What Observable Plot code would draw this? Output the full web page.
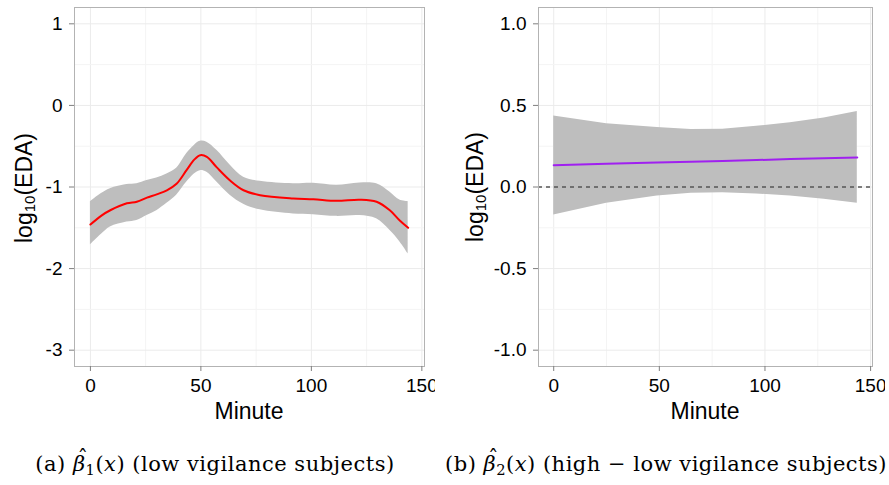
<!DOCTYPE html>
<html><head><meta charset="utf-8">
<script src="https://cdn.jsdelivr.net/npm/d3@7"></script>
<script src="https://cdn.jsdelivr.net/npm/@observablehq/plot@0.6"></script>
<style>
body{margin:0;background:#fff;}
#wrap{position:relative;width:889px;height:485px;overflow:hidden;background:#fff;}
.panel{position:absolute;top:0;}
.cap{position:absolute;font-family:"DejaVu Serif","Liberation Serif",serif;font-size:21px;line-height:22px;letter-spacing:0.5px;white-space:nowrap;transform:translateX(-50%);color:#000;}
.cap .sb{font-size:70%;position:relative;top:0.25em;}
.cap .bh{position:relative;display:inline-block;}
.cap .hat{position:absolute;left:0.22em;top:-0.3em;font-style:normal;}
</style></head><body>
<div id="wrap">
<div id="pa" class="panel" style="left:0"></div>
<div id="pb" class="panel" style="left:440px"></div>
<div class="cap" style="left:215px;top:453px">(a) <span class="bh"><i>β</i><span class="hat">ˆ</span></span><span class="sb">1</span>(<i>x</i>) (low vigilance subjects)</div>
<div class="cap" style="left:666px;top:453px">(b) <span class="bh"><i>β</i><span class="hat">ˆ</span></span><span class="sb">2</span>(<i>x</i>) (high − low vigilance subjects)</div>
</div>
<script>
// Panel (a): low vigilance subjects
const minuteA = [0, 5, 9, 16.5, 21, 25.6, 30, 34.6, 39, 43.6, 47, 49.7, 52.7, 57.2, 63.2, 69.3, 76.8, 91.8, 100.9, 111.4, 121.9, 129.5, 135.5, 140, 143.8];
const meanA  = [-1.46, -1.35, -1.285, -1.20, -1.18, -1.13, -1.09, -1.04, -0.96, -0.79, -0.665, -0.61, -0.63, -0.76, -0.92, -1.04, -1.10, -1.14, -1.15, -1.17, -1.155, -1.18, -1.285, -1.41, -1.50];
const upperA = [-1.18, -1.08, -1.02, -0.97, -0.96, -0.92, -0.89, -0.84, -0.77, -0.59, -0.49, -0.44, -0.45, -0.55, -0.73, -0.88, -0.93, -0.96, -0.955, -0.98, -0.95, -0.96, -1.06, -1.16, -1.18];
const lowerA = [-1.71, -1.58, -1.49, -1.43, -1.41, -1.35, -1.29, -1.20, -1.10, -0.94, -0.84, -0.80, -0.82, -0.94, -1.10, -1.21, -1.28, -1.33, -1.34, -1.36, -1.35, -1.39, -1.53, -1.67, -1.82];
const yTicksA = [-3, -2, -1, 0, 1];
const yTickLabelsA = ["-3", "-2", "-1", "0", "1"];
const yGridA = [-3, -2.5, -2, -1.5, -1, -0.5, 0, 0.5, 1];

// Panel (b): high - low vigilance subjects
const minuteB = [0, 25, 49, 65, 80, 96, 112, 128, 143.7];
const meanB  = [0.134, 0.142, 0.150, 0.155, 0.160, 0.165, 0.171, 0.176, 0.181];
const upperB = [0.435, 0.388, 0.364, 0.352, 0.354, 0.372, 0.394, 0.423, 0.463];
const lowerB = [-0.171, -0.10, -0.055, -0.039, -0.035, -0.043, -0.055, -0.075, -0.10];
const yTicksB = [-1, -0.5, 0, 0.5, 1];
const yTickLabelsB = ["-1.0", "-0.5", "0.0", "0.5", "1.0"];
const yGridB = [-1, -0.75, -0.5, -0.25, 0, 0.25, 0.5, 0.75, 1];

const xTicks = [0, 50, 100, 150];
const xTickLabels = ["0", "50", "100", "150"];
const xGrid = [0, 25, 50, 75, 100, 125, 150];

const rowsA = minuteA.map((m, i) => ({minute: m, mean: meanA[i], lo: lowerA[i], hi: upperA[i]}));
const rowsB = minuteB.map((m, i) => ({minute: m, mean: meanB[i], lo: lowerB[i], hi: upperB[i]}));

const style = {fontFamily: "'Liberation Sans', Arial, sans-serif", fontSize: "19px", color: "#000", background: "white", overflow: "hidden"};

function gridMarks(xg, yg, majorY) {
  return [
    Plot.ruleX(xg, {stroke: d => (d % 50 === 0 ? "#ebebeb" : "#f4f4f4"), strokeWidth: 1}),
    Plot.ruleY(yg, {stroke: d => (majorY.includes(d) ? "#ebebeb" : "#f4f4f4"), strokeWidth: 1})
  ];
}

const fmtX = d => xTickLabels[xTicks.indexOf(d)];

const plotA = Plot.plot({
  width: 435, height: 430,
  marginLeft: 74, marginRight: 11, marginTop: 7, marginBottom: 64,
  x: {domain: [-7.2, 151.2]},
  y: {domain: [-3.2, 1.2]},
  style,
  marks: [
    ...gridMarks(xGrid, yGridA, yTicksA),
    Plot.areaY(rowsA, {x: "minute", y1: "lo", y2: "hi", fill: "#bebebe", curve: "catmull-rom"}),
    Plot.line(rowsA, {x: "minute", y: "mean", stroke: "#ff0000", strokeWidth: 2, curve: "catmull-rom"}),
    Plot.frame({stroke: "#b3b3b3"}),
    Plot.axisX({ticks: xTicks, tickFormat: fmtX, tickSize: 5, tickPadding: 7, label: null, stroke: "#7f7f7f", fill: "#000"}),
    Plot.axisY({ticks: yTicksA, tickFormat: d => yTickLabelsA[yTicksA.indexOf(d)], tickSize: 5, tickPadding: 7, label: null, stroke: "#7f7f7f", fill: "#000"})
  ]
});

const plotB = Plot.plot({
  width: 445, height: 430,
  marginLeft: 98, marginRight: 13, marginTop: 7, marginBottom: 64,
  x: {domain: [-7.2, 150.9]},
  y: {domain: [-1.1, 1.1]},
  style,
  marks: [
    ...gridMarks(xGrid, yGridB, yTicksB),
    Plot.areaY(rowsB, {x: "minute", y1: "lo", y2: "hi", fill: "#bebebe"}),
    Plot.ruleY([0], {stroke: "#555", strokeWidth: 1.3, strokeDasharray: "4,4"}),
    Plot.line(rowsB, {x: "minute", y: "mean", stroke: "#a020f0", strokeWidth: 2}),
    Plot.frame({stroke: "#b3b3b3"}),
    Plot.axisX({ticks: xTicks, tickFormat: fmtX, tickSize: 5, tickPadding: 7, label: null, stroke: "#7f7f7f", fill: "#000"}),
    Plot.axisY({ticks: yTicksB, tickFormat: d => yTickLabelsB[yTicksB.indexOf(d)], tickSize: 5, tickPadding: 7, label: null, stroke: "#7f7f7f", fill: "#000"})
  ]
});

function addLabels(svgNode, xCenter, yLabelX, yCenter) {
  const svg = d3.select(svgNode);
  svg.append("text")
    .attr("x", xCenter).attr("y", 419)
    .attr("text-anchor", "middle")
    .attr("font-size", 23).attr("fill", "#000")
    .text("Minute");
  const t = svg.append("text")
    .attr("transform", `translate(${yLabelX},${yCenter}) rotate(-90)`)
    .attr("text-anchor", "middle")
    .attr("font-size", 23).attr("fill", "#000");
  t.append("tspan").text("log");
  t.append("tspan").attr("font-size", 15).attr("dy", 3).text("10");
  t.append("tspan").attr("dy", -3).text("(EDA)");
}

addLabels(plotA, 249, 31.5, 188);
addLabels(plotB, 265, 43.3, 187);

document.getElementById("pa").appendChild(plotA);
document.getElementById("pb").appendChild(plotB);
</script>
</body></html>
